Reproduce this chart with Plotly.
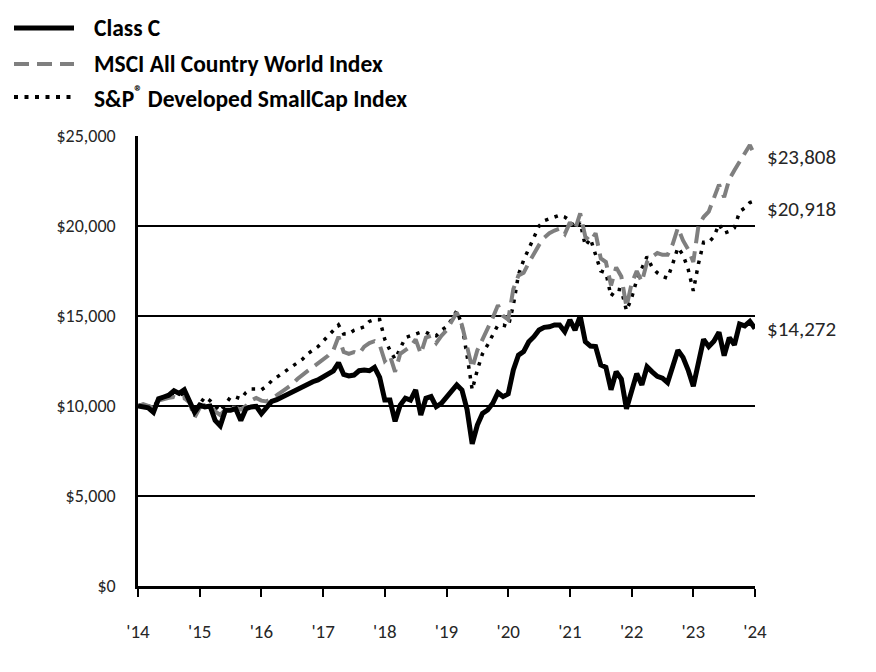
import plotly.graph_objects as go

# ---------------- data (monthly, 121 points) ----------------
months = list(range(121))
year_ticks = list(range(0, 121, 12))
year_labels = ["'14", "'15", "'16", "'17", "'18", "'19", "'20", "'21", "'22", "'23", "'24"]

class_c = [
    10000, 9950, 9900, 9650, 10400, 10500, 10600, 10850, 10700, 10900,
    10200, 9650, 10050, 9950, 10000, 9200, 8900, 9770, 9770, 9850,
    9200, 9850, 9950, 9980, 9570, 9900, 10250, 10350, 10500, 10650,
    10800, 10900, 11050, 11200, 11350, 11450, 11600, 11800, 11950, 12400,
    11750, 11670, 11720, 11960, 12000, 11960, 12150, 11590, 10330, 10330,
    9150, 10050, 10430, 10330, 10890, 9500, 10430, 10520, 9960, 10150,
    10520, 10890, 11170, 10890, 9800, 7900, 8945, 9590, 9780, 10150,
    10740, 10520, 10670, 12000, 12830, 13020, 13570, 13850, 14220, 14370,
    14400, 14500, 14500, 14130, 14780, 14220, 15000, 13570, 13330, 13300,
    12280, 12150, 10900, 11900, 11500, 9850, 10900, 11800, 11170, 12180,
    11900, 11650, 11550, 11300, 12200, 13100, 12700, 12000, 11100, 12500,
    13700, 13300, 13600, 14100, 12800, 13800, 13400, 14550, 14450, 14700,
    14300,
]

msci_acwi = [
    10000, 10100, 10000, 9900, 10300, 10400, 10450, 10500, 10400, 10450,
    10200, 9350, 9900, 10050, 10000, 9700, 9500, 9800, 9900, 9900,
    9800, 10000, 10300, 10450, 10300, 10250, 10400, 10600, 10800, 11000,
    11200, 11500, 11750, 11950, 12150, 12350, 12550, 12800, 13100, 13850,
    13000, 12900, 13000, 12900, 13300, 13500, 13600, 13400, 12500, 12800,
    11900, 12900, 13100, 13300, 13700, 12900, 13800, 13900, 13500, 13900,
    14200, 14700, 15200, 14500, 13300, 12100, 13100, 13700, 14200, 14900,
    15600, 15000, 14800, 16500, 17250, 17400, 17950, 18500, 18950, 19350,
    19600, 19750, 19850, 19550, 20200, 19800, 20700, 19400, 19150, 19600,
    18200, 18000, 16700, 17700, 17200, 15500, 16800, 17500, 16900, 18000,
    18300, 18500, 18400, 18400, 19000, 19900, 19200, 18700, 18000, 20000,
    20500, 20800, 21500, 22300, 21600, 22600, 23100, 23600, 24000, 24500,
    23900,
]

sp_smallcap = [
    10000, 10100, 10000, 9900, 10400, 10500, 10600, 10700, 10600, 10700,
    10300, 9600, 10100, 10500, 10300, 10000, 9700, 10100, 10500, 10500,
    10400, 10750, 10950, 10950, 10900, 11100, 11400, 11600, 11800, 12050,
    12200, 12400, 12600, 12900, 13100, 13300, 13600, 13900, 14200, 14500,
    14000, 14000, 14200, 14300, 14400, 14700, 14800, 14800, 13700, 13100,
    12600, 13200, 13800, 13900, 14000, 14100, 14100, 13950, 13900, 14200,
    14400, 14800, 15300, 14500, 12800, 10900, 12000, 12900, 13400, 14000,
    14500, 14500, 14400, 15600, 17300, 18100, 18700, 19400, 20000, 20300,
    20400, 20500, 20600, 20500, 20300, 19900, 20200, 18900, 19300, 18400,
    17500, 17400, 16100, 16500, 16450, 15300, 16000, 17000, 17700, 18300,
    17700, 17400, 17200, 17100, 17900, 18800, 18400, 17600, 16400, 17900,
    19100, 19100, 19400, 20100, 19600, 19700, 19900, 20800, 21000, 21300,
    21400,
]

series_names = ["Class C", "MSCI All Country World Index", "S&amp;P<sup>®</sup> Developed SmallCap Index"]
end_values = [14272, 23808, 20918]
y_ticks = [0, 5000, 10000, 15000, 20000, 25000]

# ---------------- styling ----------------
FONT = "Carlito, Calibri, Lato, sans-serif"
TEXT = "#262626"
W, H = 876, 672
L, R, T, B = 138, 121, 136, 86
GRAY = "#7f7f7f"

styles = [
    dict(color="black", width=5, dash="solid"),
    dict(color=GRAY, width=4, dash="17px,8px"),
    dict(color="black", width=3.5, dash="3.5px,6.5px"),
]
data_series = [class_c, msci_acwi, sp_smallcap]

fig = go.Figure()
# draw dotted first, then dashed, then solid on top
for idx in [2, 1, 0]:
    fig.add_trace(go.Scatter(
        x=months, y=data_series[idx], mode="lines",
        line=dict(color=styles[idx]["color"], width=styles[idx]["width"], dash=styles[idx]["dash"]),
        name=series_names[idx], showlegend=False, hoverinfo="skip",
    ))

def px_x(px):
    return (px - L) / (W - L - R)

def px_y(py):
    return (H - B - py) / (H - T - B)

# manual legend
legend_rows = [28, 64, 97]
legend_dash = ["solid", "15px,8px", "4px,6.5px"]
legend_width = [5, 4, 4]
shapes = []
annotations = []
for i, yy in enumerate(legend_rows):
    shapes.append(dict(type="line", xref="paper", yref="paper",
                       x0=px_x(14), x1=px_x(74), y0=px_y(yy), y1=px_y(yy),
                       line=dict(color=styles[i]["color"], width=legend_width[i],
                                 dash=legend_dash[i])))
    annotations.append(dict(xref="paper", yref="paper", x=px_x(92), y=px_y(yy),
                            xanchor="left", yanchor="middle", showarrow=False,
                            text="<b>" + series_names[i] + "</b>",
                            font=dict(family=FONT, size=23.5, color="black")))

# end labels
for v in end_values:
    annotations.append(dict(xref="paper", yref="y", x=px_x(765), y=v,
                            xanchor="left", yanchor="middle", showarrow=False,
                            text="${:,}".format(v),
                            font=dict(family=FONT, size=21, color=TEXT)))

fig.update_layout(
    width=W, height=H,
    margin=dict(l=L, r=R, t=T, b=B, pad=0),
    paper_bgcolor="white", plot_bgcolor="white",
    shapes=shapes, annotations=annotations,
    showlegend=False,
    font=dict(family=FONT, size=18, color=TEXT),
)
fig.update_xaxes(
    range=[0, 120], tickvals=year_ticks, ticktext=year_labels,
    showgrid=False, zeroline=False,
    showline=True, linecolor="black", linewidth=2.5,
    ticks="outside", ticklen=8, tickwidth=2, tickcolor="black",
    ticklabelstandoff=18,
    tickfont=dict(family=FONT, size=19, color=TEXT),
)
fig.update_yaxes(
    range=[0, 25000], tickvals=y_ticks,
    ticktext=["${:,}".format(v) for v in y_ticks],
    showgrid=True, gridcolor="black", gridwidth=2,
    zeroline=False, showline=True, linecolor="black", linewidth=2.5,
    ticks="", ticklabelstandoff=16,
    tickfont=dict(family=FONT, size=18, color=TEXT),
)

fig.write_html("out.html")
